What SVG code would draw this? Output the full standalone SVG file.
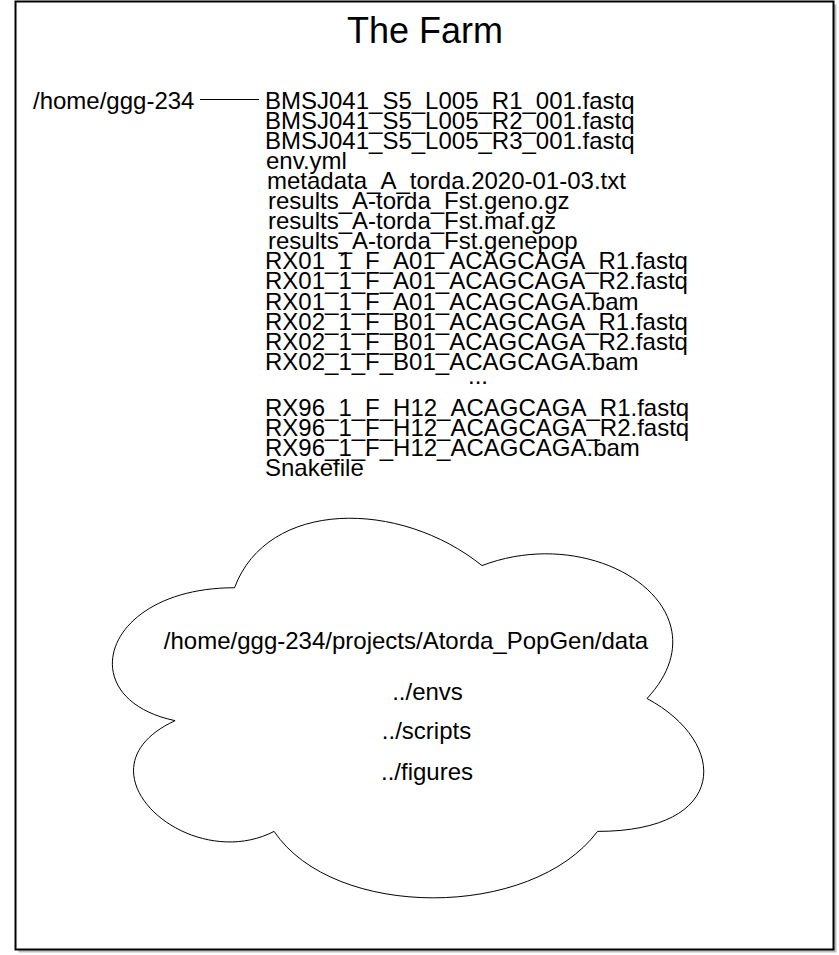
<svg xmlns="http://www.w3.org/2000/svg" width="839" height="955" viewBox="0 0 839 955">
  <style>
    text { font-family: "Liberation Sans", Arial, Helvetica, sans-serif; fill: #000; }
    .title { font-size: 36px; text-anchor: middle; }
    .t { font-size: 24px; }
    .c { font-size: 24px; text-anchor: middle; }
    .shape { fill: #fff; stroke: #000; stroke-width: 1; }
    .conn { fill: none; stroke: #000; stroke-width: 1; }
  </style>
  <rect x="0" y="0" width="839" height="955" fill="#fff"/>
  <g id="farm">
    <rect x="18.5" y="4.5" width="818" height="948" fill="#bfbfbf"/>
    <rect x="15.5" y="1.5" width="818" height="948" fill="#fff" stroke="#000" stroke-width="2"/>
    <text class="title" x="425" y="43">The Farm</text>
  </g>
  <g id="home">
    <text class="t" x="33" y="108.5">/home/ggg-234</text>
  </g>
  <g id="connectors">
    <line class="conn" x1="200" y1="99.5" x2="259" y2="99.5"/>
  </g>
  <g id="files">
    <text class="t" x="265" y="108.5">BMSJ041_S5_L005_R1_001.fastq</text>
    <text class="t" x="265" y="128.6">BMSJ041_S5_L005_R2_001.fastq</text>
    <text class="t" x="265" y="148.7">BMSJ041_S5_L005_R3_001.fastq</text>
    <text class="t" x="266" y="168.8">env.yml</text>
    <text class="t" x="267" y="188.9">metadata_A_torda.2020-01-03.txt</text>
    <text class="t" x="268" y="209">results_A-torda_Fst.geno.gz</text>
    <text class="t" x="268" y="229.1">results_A-torda_Fst.maf.gz</text>
    <text class="t" x="268" y="249.2">results_A-torda_Fst.genepop</text>
    <text class="t" x="265" y="269.3">RX01_1_F_A01_ACAGCAGA_R1.fastq</text>
    <text class="t" x="265" y="289.4">RX01_1_F_A01_ACAGCAGA_R2.fastq</text>
    <text class="t" x="265" y="309.5">RX01_1_F_A01_ACAGCAGA.bam</text>
    <text class="t" x="265" y="329.6">RX02_1_F_B01_ACAGCAGA_R1.fastq</text>
    <text class="t" x="265" y="349.7">RX02_1_F_B01_ACAGCAGA_R2.fastq</text>
    <text class="t" x="265" y="369.8">RX02_1_F_B01_ACAGCAGA.bam</text>
    <text class="c" x="478" y="383.5">...</text>
    <text class="t" x="265" y="416.1">RX96_1_F_H12_ACAGCAGA_R1.fastq</text>
    <text class="t" x="265" y="436.2">RX96_1_F_H12_ACAGCAGA_R2.fastq</text>
    <text class="t" x="265" y="456.3">RX96_1_F_H12_ACAGCAGA.bam</text>
    <text class="t" x="265" y="476.4">Snakefile</text>
  </g>
  <g id="cloud">
    <path class="shape" d="M234.5,587.75 C102.5,587.75 69.5,698.5 175.1,720.65 C69.5,769.38 188.3,875.7 274.1,831.4 C333.5,920 531.5,920 597.5,831.4 C729.5,831.4 729.5,742.8 647,698.5 C729.5,609.9 597.5,521.3 482,565.6 C399.5,499.15 267.5,499.15 234.5,587.75 Z"/>
    <text class="c" x="406" y="648.5">/home/ggg-234/projects/Atorda_PopGen/data</text>
    <text class="c" x="427.5" y="700">../envs</text>
    <text class="c" x="426.5" y="739">../scripts</text>
    <text class="c" x="427" y="780">../figures</text>
  </g>
</svg>
